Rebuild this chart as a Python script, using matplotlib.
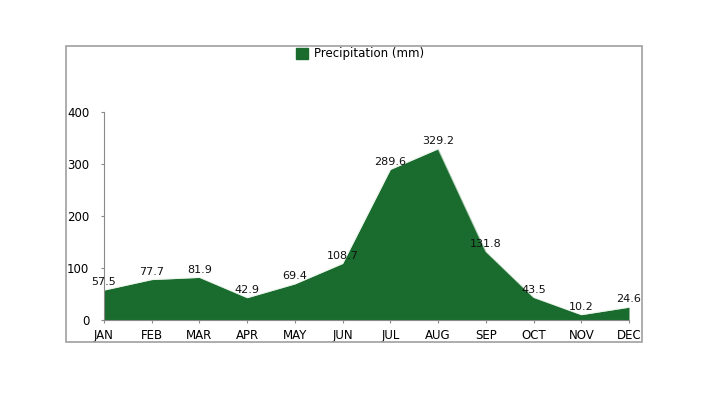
import matplotlib

matplotlib.use("Agg")
import matplotlib.pyplot as plt  # noqa: E402
from matplotlib.patches import Rectangle, Patch  # noqa: E402

months = ["JAN", "FEB", "MAR", "APR", "MAY", "JUN", "JUL", "AUG", "SEP", "OCT", "NOV", "DEC"]
precip_mm = [57.5, 77.7, 81.9, 42.9, 69.4, 108.7, 289.6, 329.2, 131.8, 43.5, 10.2, 24.6]
y_ticks = [0, 100, 200, 300, 400]

GREEN = "#196b2e"
GREY = "#8a8a8a"

fig = plt.figure(figsize=(7.09, 3.99), dpi=100)
fig.patch.set_facecolor("white")

# outer frame around the chart
fig.patches.append(Rectangle((66 / 709, 1 - 342 / 399), (642 - 66) / 709, (342 - 46) / 399,
                             transform=fig.transFigure, fill=False, edgecolor="#a0a0a0", lw=1.2))

ax = fig.add_axes([104 / 709, 1 - 320 / 399, (629 - 104) / 709, (320 - 112) / 399])
xs = list(range(len(months)))
ax.fill_between(xs, 0, precip_mm, color=GREEN, lw=0)
ax.plot(xs, precip_mm, color="#e6f2e6", lw=0.8, alpha=0.7)

for x, v in zip(xs, precip_mm):
    ax.annotate(f"{v}", (x, v), xytext=(0, 2), textcoords="offset points",
                ha="center", va="bottom", fontsize=8, color="#111111")

ax.set_xlim(0, 11)
ax.set_ylim(0, 400)
ax.set_xticks(xs)
ax.set_xticklabels(months, fontsize=8.5)
ax.set_yticks(y_ticks)
ax.set_yticklabels([str(t) for t in y_ticks], fontsize=8.5)
ax.tick_params(axis="both", length=2.5, color=GREY)
ax.tick_params(axis="x", pad=4)
ax.tick_params(axis="y", pad=8)
for s in ("top", "right"):
    ax.spines[s].set_visible(False)
ax.spines["left"].set_color(GREY)
ax.spines["bottom"].set_color(GREY)
ax.spines["left"].set_linewidth(0.8)
ax.spines["bottom"].set_linewidth(0.8)

fig.legend(handles=[Patch(color=GREEN, label="Precipitation (mm)")],
           loc="center", bbox_to_anchor=(360 / 709, 1 - 54 / 399), frameon=False,
           fontsize=8.5, handlelength=1.0, handleheight=1.0, handletextpad=0.5)

fig.savefig("out.png", dpi=100)
